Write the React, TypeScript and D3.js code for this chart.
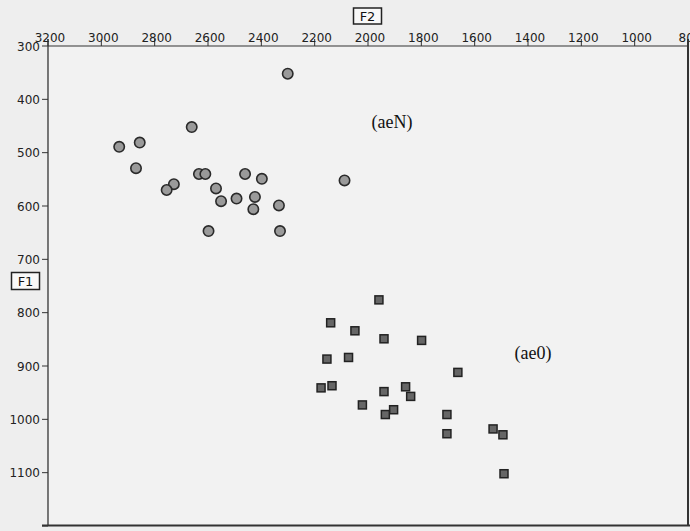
import React from "react";
import * as d3 from "d3";

const xTicks = [3200, 3000, 2800, 2600, 2400, 2200, 2000, 1800, 1600, 1400, 1200, 1000, 800];
const yTicks = [300, 400, 500, 600, 700, 800, 900, 1000, 1100, 1200];

// aeN group (circles): F2 and F1 values
const aeNF2 = [2301, 2661, 2933, 2856, 2870, 2634, 2610, 2728, 2755, 2461, 2398, 2570, 2551, 2493, 2424, 2430, 2334, 2088, 2598, 2330];
const aeNF1 = [352, 452, 489, 481, 529, 540, 540, 559, 570, 540, 549, 567, 591, 586, 583, 606, 599, 552, 647, 647];

// ae0 group (squares): F2 and F1 values
const ae0F2 = [1959, 2140, 2049, 1940, 1799, 2154, 2073, 1663, 2176, 2135, 1940, 1859, 1840, 2021, 1904, 1935, 1704, 1704, 1531, 1494, 1490];
const ae0F1 = [776, 819, 834, 849, 852, 887, 884, 912, 941, 937, 948, 939, 957, 973, 982, 991, 991, 1027, 1018, 1029, 1102];

const W = 690, H = 531;
const L = 48, R = 688, T = 46, B = 526;

export default function App() {
  const x = d3.scaleLinear().domain([3200, 800]).range([L, R]);
  const y = d3.scaleLinear().domain([300, 1200]).range([T, B]);
  const font = "'DejaVu Sans', Verdana, sans-serif";
  const serif = "'Liberation Serif', 'Times New Roman', serif";
  return (
    <svg width={W} height={H} style={{ position: "absolute", left: 0, top: 0, display: "block" }}>
      <rect x={0} y={0} width={W} height={H} fill="#eeeeee" />
      <rect x={L} y={T} width={R - L} height={B - T} fill="#f2f2f2" />
      {/* top axis */}
      <line x1={L} x2={R} y1={T} y2={T} stroke="#333" strokeWidth={1} />
      {xTicks.map((t) => (
        <g key={"x" + t}>
          <line x1={x(t)} x2={x(t)} y1={T - 7} y2={T} stroke="#333" strokeWidth={1} />
          <text x={x(t) + 2} y={41.5} textAnchor="middle" fontFamily={font} fontSize={12} fill="#222">
            {t}
          </text>
        </g>
      ))}
      {/* left axis */}
      <line x1={L} x2={L} y1={T - 7} y2={B} stroke="#333" strokeWidth={1.3} />
      {yTicks.map((t) => (
        <g key={"y" + t}>
          <line x1={L - 6} x2={L} y1={y(t)} y2={y(t)} stroke="#333" strokeWidth={1} />
          {t < 1200 && (
            <text x={L - 8} y={y(t) + 4.5} textAnchor="end" fontFamily={font} fontSize={12} fill="#222">
              {t}
            </text>
          )}
        </g>
      ))}
      {/* right & bottom border */}
      <line x1={R} x2={R} y1={T - 7} y2={B} stroke="#333" strokeWidth={2} />
      <line x1={L - 6} x2={W} y1={B - 0.5} y2={B - 0.5} stroke="#333" strokeWidth={2} />
      {/* axis title boxes */}
      <rect x={353.5} y={8} width={28} height={16} fill="#f8f8f8" stroke="#222" strokeWidth={1.5} />
      <text x={367.5} y={21} textAnchor="middle" fontFamily={font} fontSize={13} fill="#111">F2</text>
      <rect x={11.5} y={272.5} width={28} height={17} fill="#f8f8f8" stroke="#222" strokeWidth={1.5} />
      <text x={25.5} y={286} textAnchor="middle" fontFamily={font} fontSize={13} fill="#111">F1</text>
      {/* circles */}
      {aeNF2.map((f2, i) => (
        <circle key={"c" + i} cx={x(f2)} cy={y(aeNF1[i])} r={5.2} fill="#9a9a9a" stroke="#2a2a2a" strokeWidth={1.6} />
      ))}
      {/* squares */}
      {ae0F2.map((f2, i) => (
        <rect key={"s" + i} x={x(f2) - 4} y={y(ae0F1[i]) - 4} width={8} height={8} fill="#666" stroke="#222" strokeWidth={1.5} />
      ))}
      <text x={392} y={128} textAnchor="middle" fontFamily={serif} fontSize={18} fill="#111">(aeN)</text>
      <text x={533} y={359} textAnchor="middle" fontFamily={serif} fontSize={18} fill="#111">(ae0)</text>
    </svg>
  );
}
